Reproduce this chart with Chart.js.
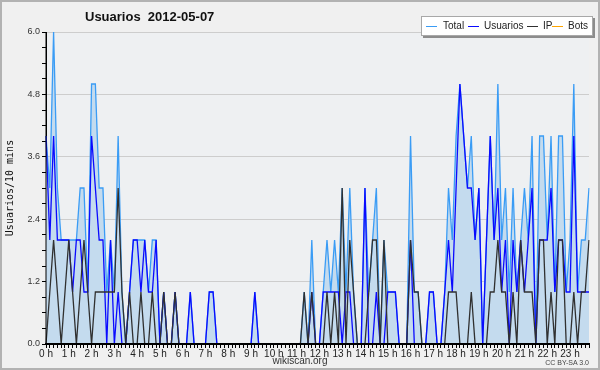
<!DOCTYPE html>
<html><head><meta charset="utf-8">
<script src="https://cdn.jsdelivr.net/npm/chart.js@4.4.0/dist/chart.umd.min.js"></script>
<style>
html,body{margin:0;padding:0;background:#f0f0f0;}
#wrap{position:relative;width:600px;height:370px;overflow:hidden;background:#f0f0f0;}
#c{position:absolute;left:0;top:0;}
#frame{position:absolute;left:0;top:0;width:600px;height:370px;box-sizing:border-box;border:2px solid #b2b2b2;pointer-events:none;}
.cond{font-family:"Liberation Sans","Arial",sans-serif;}
#title{position:absolute;left:85px;top:9px;font-size:13px;font-weight:bold;color:#111;white-space:pre;}
#legend{position:absolute;left:421px;top:16px;width:170px;height:18px;background:#fff;border:1px solid #a8a8a8;box-shadow:2px 2px 0 #8c8c8c;font-size:10px;color:#222;white-space:nowrap;}
#legend .sw{position:absolute;top:9px;width:11px;height:0;border-top:1.5px solid;}
#legend .t{position:absolute;top:2px;line-height:14px;}
#src{position:absolute;left:0;width:600px;top:355px;text-align:center;font-size:10px;color:#333;}
#cc{position:absolute;left:480px;width:109px;top:359px;text-align:right;font-size:7px;color:#444;}
</style></head>
<body>
<div id="wrap">
<canvas id="c" width="600" height="370"></canvas>
<div id="title" class="cond">Usuarios  2012-05-07</div>
<div id="legend" class="cond">
  <span class="sw" style="left:4px;border-color:#3a9cf5"></span><span class="t" style="left:21px">Total</span>
  <span class="sw" style="left:46px;border-color:#0a0aff"></span><span class="t" style="left:62px">Usuarios</span>
  <span class="sw" style="left:105px;border-color:#303030"></span><span class="t" style="left:121px">IP</span>
  <span class="sw" style="left:130px;border-color:#ffa500"></span><span class="t" style="left:146px">Bots</span>
</div>
<div id="src" class="cond">wikiscan.org</div>
<div id="cc" class="cond">CC BY-SA 3.0</div>
<div id="frame"></div>
</div>
<script>
const hourLabels = ['0 h','1 h','2 h','3 h','4 h','5 h','6 h','7 h','8 h','9 h','10 h','11 h',
                    '12 h','13 h','14 h','15 h','16 h','17 h','18 h','19 h','20 h','21 h','22 h','23 h'];
const yTickLabels = ['0.0','1.2','2.4','3.6','4.8','6.0'];

const total = [
  4,3,6,3,2,2,2,2,2,3,3,1,
  5,5,3,3,1,2,1,4,1,0,1,2,
  2,2,2,1,2,2,0,1,0,0,1,0,
  0,0,1,0,0,0,0,1,1,0,0,0,
  0,0,0,0,0,0,0,1,0,0,0,0,
  0,0,0,0,0,0,0,0,1,0,2,0,
  0,1,2,1,2,1,3,1,3,1,0,0,
  3,1,2,3,0,2,1,1,1,0,0,0,
  4,1,1,0,0,1,1,0,0,1,3,2,
  4,5,4,3,4,2,3,0,2,4,2,5,
  2,3,1,3,1,2,3,2,4,0,4,4,
  2,4,1,4,4,1,2,5,1,2,2,3
];
const usuarios = [
  4,2,4,2,2,2,2,1,2,2,1,1,
  4,3,2,2,0,2,0,1,0,0,1,2,
  2,1,2,1,1,2,0,1,0,0,1,0,
  0,0,1,0,0,0,0,1,1,0,0,0,
  0,0,0,0,0,0,0,1,0,0,0,0,
  0,0,0,0,0,0,0,0,0,0,1,0,
  0,1,1,1,1,1,0,1,1,0,0,0,
  3,0,0,1,0,0,1,1,1,0,0,0,
  2,0,0,0,0,1,1,0,0,1,2,1,
  3,5,4,3,3,2,3,0,2,4,2,3,
  1,2,0,2,1,2,1,2,3,0,2,2,
  2,3,1,2,2,1,1,4,1,1,1,1
];
const ip = [
  0,1,2,1,0,1,2,1,0,1,2,1,
  0,1,1,1,1,1,1,3,1,0,1,0,
  0,1,0,0,1,0,0,1,0,0,1,0,
  0,0,0,0,0,0,0,0,0,0,0,0,
  0,0,0,0,0,0,0,0,0,0,0,0,
  0,0,0,0,0,0,0,0,1,0,1,0,
  0,0,1,0,1,0,3,0,2,1,0,0,
  0,1,2,2,0,2,0,0,0,0,0,0,
  2,1,1,0,0,0,0,0,0,0,1,1,
  1,0,0,0,1,0,0,0,0,1,1,2,
  1,1,0,1,0,2,1,1,1,0,2,2,
  0,1,0,2,2,0,0,1,0,1,1,2
];
const bots = [
  0,0,0,0,0,0,0,0,0,0,0,0,
  0,0,0,0,0,0,0,0,0,0,0,0,
  0,0,0,0,0,0,0,0,0,0,0,0,
  0,0,0,0,0,0,0,0,0,0,0,0,
  0,0,0,0,0,0,0,0,0,0,0,0,
  0,0,0,0,0,0,0,0,0,0,0,0,
  0,0,0,0,0,0,0,0,0,0,0,0,
  0,0,0,0,0,0,0,0,0,0,0,0,
  0,0,0,0,0,0,0,0,0,0,0,0,
  0,0,0,0,0,0,0,0,0,0,0,0,
  0,0,0,0,0,0,0,0,0,0,0,0,
  0,0,0,0,0,0,0,0,0,0,0,0
];

const slots = total.map((_, i) => i);
const COND = '"Liberation Sans",Arial,sans-serif';

const bgPlugin = {
  id: 'bg',
  beforeDraw(chart) {
    const {ctx, chartArea: a} = chart;
    ctx.save();
    ctx.fillStyle = '#f0f0f0';
    ctx.fillRect(0, 0, chart.width, chart.height);
    ctx.fillStyle = '#eef0f2';
    ctx.fillRect(a.left, a.top, a.right - a.left, a.bottom - a.top);
    ctx.restore();
  }
};
const axisRedraw = {
  id: 'axisRedraw',
  afterDatasetsDraw(chart) {
    const {ctx, chartArea: a} = chart;
    ctx.save();
    ctx.fillStyle = '#000';
    ctx.fillRect(a.left - 1, a.bottom - 1, a.right - a.left + 1, 2);
    ctx.fillRect(a.left - 0.5, a.top, 1, a.bottom - a.top);
    ctx.restore();
  }
};

const isMajor = v => Math.round(v / 0.3) % 4 === 0;

new Chart(document.getElementById('c'), {
  type: 'line',
  data: {
    labels: slots,
    datasets: [
      {label: 'Total', data: total, borderColor: '#3a9cf5', backgroundColor: 'rgba(196,219,238,1)', fill: 'origin', order: 4},
      {label: 'Usuarios', data: usuarios, borderColor: '#0a0aff', fill: false, order: 3},
      {label: 'IP', data: ip, borderColor: '#303030', fill: false, order: 2},
      {label: 'Bots', data: bots, borderColor: '#ffa500', fill: false, order: 5}
    ]
  },
  options: {
    responsive: false,
    animation: false,
    devicePixelRatio: 1,
    layout: {padding: {left: 0, right: 11, top: 32, bottom: 0}},
    elements: {line: {borderWidth: 1.3, tension: 0}, point: {radius: 0}},
    plugins: {legend: {display: false}, tooltip: {enabled: false}, title: {display: false}},
    scales: {
      x: {
        type: 'category',
        offset: false,
        grid: {color: 'rgba(0,0,0,0)', tickColor: '#000', tickLength: 4, drawOnChartArea: false},
        border: {color: '#000', width: 2},
        ticks: {
          autoSkip: false, maxRotation: 0, minRotation: 0, padding: 0,
          color: '#222', font: {family: COND, size: 10},
          callback: (v, i) => (i % 6 === 0 ? hourLabels[i / 6] : '')
        },
        afterFit: s => { s.height = 26; }
      },
      y: {
        min: 0, max: 6,
        ticks: {
          stepSize: 0.3, maxTicksLimit: 25, padding: 2,
          color: '#333', font: {family: COND, size: 9},
          callback: v => (isMajor(v) ? yTickLabels[Math.round(v / 1.2)] : '')
        },
        grid: {
          color: c => (c.tick && isMajor(c.tick.value) && c.tick.value > 0.1 ? '#cdcdcd' : 'rgba(0,0,0,0)'),
          lineWidth: 1,
          tickColor: '#000', tickLength: 4
        },
        border: {color: '#000', width: 1},
        title: {display: true, text: 'Usuarios/10 mins', color: '#111',
                font: {family: '"DejaVu Sans Mono",monospace', size: 10}, padding: {top: 4, bottom: 0}},
        afterFit: s => { s.width = 46; }
      }
    }
  },
  plugins: [bgPlugin, axisRedraw]
});
</script>
</body></html>
